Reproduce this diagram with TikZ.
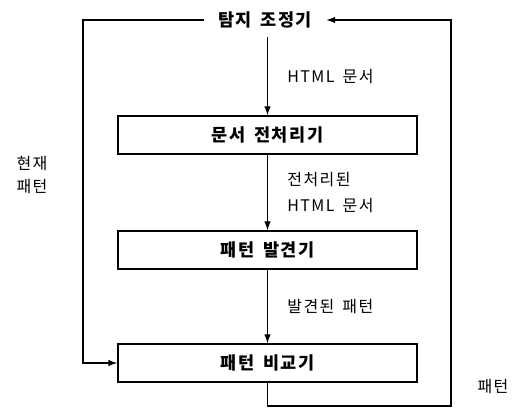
\documentclass[tikz,border=0pt]{standalone}
\usepackage{fontspec}
\setmainfont{Noto Sans CJK KR}[LetterSpace=9]
\usepackage{tikz}
\usetikzlibrary{arrows.meta}
\newcommand\gap{\hspace{0.5em}}
\tikzstyle{box} = [rectangle, minimum width=299pt, minimum height=38pt, text centered, draw=black, line width=1.3pt, font=\fontsize{17.5}{20}\selectfont\bfseries]
\tikzstyle{title} = [rectangle, inner xsep=14pt, minimum height=34pt, font=\fontsize{17.5}{20}\selectfont\bfseries]
\tikzstyle{lbl} = [font=\fontsize{16}{26}\selectfont, align=left]
\tikzstyle{arrow} = [line width=1.1pt,-{Latex[length=9pt,width=6.5pt]}]

\begin{document}
\begin{tikzpicture}[x=1pt,y=1pt,node distance=115pt]
\useasboundingbox (0,0) rectangle (520,410);
\node (det) [title] at (265,390) {탐지\gap 조정기};
\node (doc) [box, below of=det, xshift=2.5pt] {문서\gap 전처리기};
\node (pat) [box, below of=doc] {패턴\gap 발견기};
\node (cmp) [box, below of=pat, yshift=2pt] {패턴\gap 비교기};
\coordinate (L) at (83,0);
\coordinate (R) at (451,4);

\draw [arrow] (det.south -| doc.north) -- node[lbl, right, xshift=16pt] {HTML\gap 문서} (doc.north);
\draw [arrow] (doc) -- node[lbl, right, xshift=16pt] {전처리된\\HTML\gap 문서} (pat);
\draw [arrow] (pat) -- node[lbl, right, xshift=16pt] {발견된\gap 패턴} (cmp);
\draw [arrow] (det.west) -| (L |- cmp.west) -- (cmp.west);
\draw [arrow] (cmp.south) |- (R) |- (det.east);

\node (cur) [lbl, align=center, font=\fontsize{16}{23}\selectfont] at (32,235) {현재\\패턴};
\node (ptn) [lbl] at (493,23) {패턴};
\end{tikzpicture}
\end{document}
